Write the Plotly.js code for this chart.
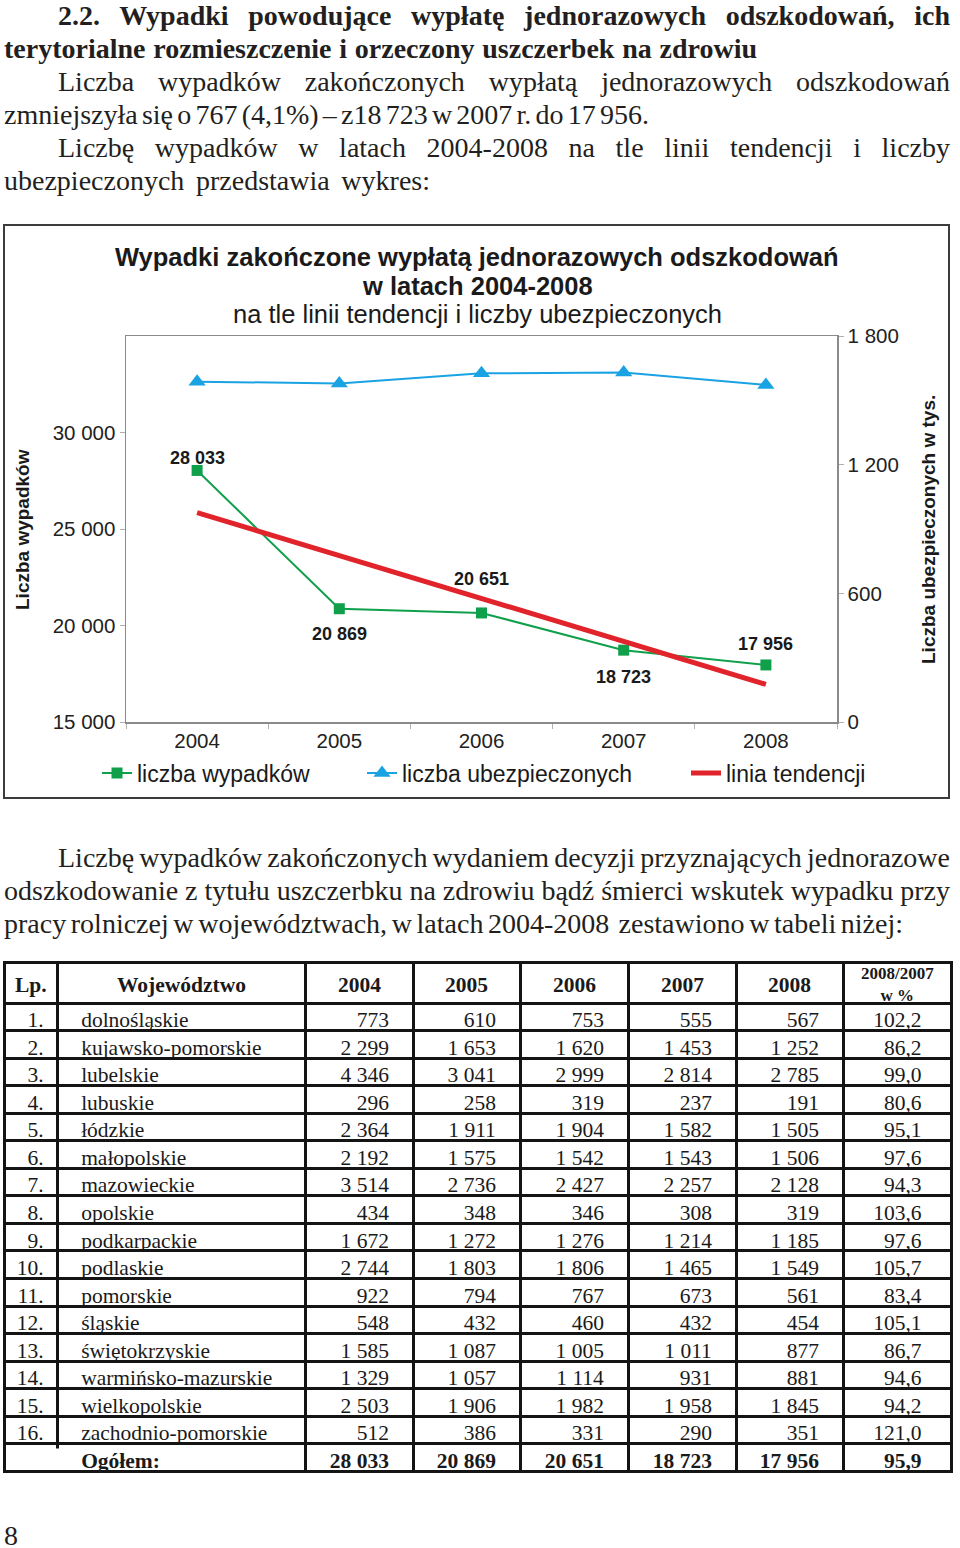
<!DOCTYPE html>
<html><head><meta charset="utf-8">
<script src="https://cdn.plot.ly/plotly-3.0.1.min.js"></script>
<style>
html,body{margin:0;padding:0;background:#fff;}
body{width:960px;height:1548px;position:relative;overflow:hidden;}
.ln{position:absolute;font-family:'Liberation Serif','Times New Roman',serif;font-size:28px;line-height:33px;color:#231f20;white-space:pre;}
.ln.b{font-weight:bold;}
#chart{position:absolute;left:4px;top:225px;width:945px;height:573px;}
#frame{position:absolute;left:3px;top:224px;width:947px;height:575px;border:2px solid #3c3c3c;box-sizing:border-box;pointer-events:none;}
#table{position:absolute;left:0;top:940px;width:960px;height:578px;}
</style>
</head><body>
<div id="chart"></div>
<div id="frame"></div>
<div id="table"></div>
<script>
// ---------- chart data ----------
const years = ['2004', '2005', '2006', '2007', '2008'];
const accidents = [28033, 20869, 20651, 18723, 17956];
const insuredThousands = [1587, 1579, 1626, 1630, 1572];
const trendYears = ['2004', '2008'];
const trendValues = [25850, 16950];
const leftTicks = [15000, 20000, 25000, 30000];
const rightTicks = [0, 600, 1200, 1800];
const seriesNames = ['liczba wypadków', 'liczba ubezpieczonych', 'linia tendencji'];

// ---------- table data ----------
const tableHeader = ['Lp.', 'Województwo', '2004', '2005', '2006', '2007', '2008', '2008/2007<br>w %'];
const lp = ['1.', '2.', '3.', '4.', '5.', '6.', '7.', '8.', '9.', '10.', '11.', '12.', '13.', '14.', '15.', '16.'];
const voivodeships = ['dolnośląskie', 'kujawsko-pomorskie', 'lubelskie', 'lubuskie', 'łódzkie', 'małopolskie',
  'mazowieckie', 'opolskie', 'podkarpackie', 'podlaskie', 'pomorskie', 'śląskie', 'świętokrzyskie',
  'warmińsko-mazurskie', 'wielkopolskie', 'zachodnio-pomorskie'];
const v2004 = [773, 2299, 4346, 296, 2364, 2192, 3514, 434, 1672, 2744, 922, 548, 1585, 1329, 2503, 512];
const v2005 = [610, 1653, 3041, 258, 1911, 1575, 2736, 348, 1272, 1803, 794, 432, 1087, 1057, 1906, 386];
const v2006 = [753, 1620, 2999, 319, 1904, 1542, 2427, 346, 1276, 1806, 767, 460, 1005, 1114, 1982, 331];
const v2007 = [555, 1453, 2814, 237, 1582, 1543, 2257, 308, 1214, 1465, 673, 432, 1011, 931, 1958, 290];
const v2008 = [567, 1252, 2785, 191, 1505, 1506, 2128, 319, 1185, 1549, 561, 454, 877, 881, 1845, 351];
const ratio = [102.2, 86.2, 99.0, 80.6, 95.1, 97.6, 94.3, 103.6, 97.6, 105.7, 83.4, 105.1, 86.7, 94.6, 94.2, 121.0];
const totalLabel = 'Ogółem:';
const totals = [28033, 20869, 20651, 18723, 17956];
const totalRatio = 95.9;

// ---------- page text ----------
const textLines = [
  {t: '2.2. Wypadki powodujące wypłatę jednorazowych odszkodowań, ich', x: 58, x2: 950, base: 25, b: true},
  {t: 'terytorialne rozmieszczenie i orzeczony uszczerbek na zdrowiu', x: 4, x2: 757, base: 58, b: true},
  {t: 'Liczba wypadków zakończonych wypłatą jednorazowych odszkodowań', x: 58, x2: 950, base: 91},
  {t: 'zmniejszyła się o 767 (4,1%) – z18 723 w 2007 r. do 17 956.', x: 4, x2: 649, base: 124},
  {t: 'Liczbę wypadków w latach 2004-2008 na tle linii tendencji i liczby', x: 58, x2: 950, base: 157},
  {t: 'ubezpieczonych przedstawia wykres:', x: 4, x2: 430, base: 190},
  {t: 'Liczbę wypadków zakończonych wydaniem decyzji przyznających jednorazowe', x: 58, x2: 950, base: 867},
  {t: 'odszkodowanie z tytułu uszczerbku na zdrowiu bądź śmierci wskutek wypadku przy', x: 4, x2: 950, base: 900},
  {t: 'pracy rolniczej w województwach, w latach 2004-2008  zestawiono w tabeli niżej:', x: 4, x2: 903, base: 933},
  {t: '8', x: 4, x2: 18, base: 1545}
];

function placeLine(l) {
  const d = document.createElement('div');
  d.className = 'ln' + (l.b ? ' b' : '');
  d.style.left = l.x + 'px';
  d.style.top = (l.base - 26) + 'px';
  const s = document.createElement('span');
  s.style.display = 'inline-block';
  s.textContent = l.t;
  d.appendChild(s);
  document.body.appendChild(d);
  const nat = s.getBoundingClientRect().width;
  const target = l.x2 - l.x;
  const n = (l.t.match(/ /g) || []).length;
  if (n > 0) {
    let ws = (target - nat) / n;
    if (ws < -4) ws = -4;
    s.style.wordSpacing = ws + 'px';
  }
  const w2 = s.getBoundingClientRect().width;
  if (Math.abs(w2 - target) > 1) {
    s.style.transformOrigin = '0 0';
    s.style.transform = 'scaleX(' + (target / w2) + ')';
  }
}
textLines.forEach(placeLine);

function fmt(n) { return String(n).replace(/\B(?=(\d{3})+(?!\d))/g, ' '); }
function fmtT(n) { return fmt(n).replace(/ /g, '\u00a0'); }
function fmtPct(n) { return n.toFixed(1).replace('.', ','); }

// ---------- chart ----------
const CH_W = 945, CH_H = 573;
const M = {l: 122, r: 112, t: 111, b: 76, autoexpand: false};
const PW = CH_W - M.l - M.r, PH = CH_H - M.t - M.b;
const px = v => (v - M.l) / PW;          // div x -> paper x
const py = v => (CH_H - M.b - v) / PH;   // div y -> paper y

const green = '#10a04c', blue = '#1aa3e3', red = '#e1242b';
const sans = 'Liberation Sans, Arial, sans-serif';

const traces = [
  {type: 'scatter', mode: 'lines+markers', x: years, y: accidents, name: seriesNames[0],
   line: {color: green, width: 2}, marker: {symbol: 'square', size: 11, color: green},
   legend: 'legend', hoverinfo: 'skip'},
  {type: 'scatter', mode: 'lines', x: trendYears, y: trendValues, name: seriesNames[2],
   line: {color: red, width: 5}, legend: 'legend3', hoverinfo: 'skip'},
  {type: 'scatter', mode: 'lines+markers', x: years, y: insuredThousands, name: seriesNames[1], yaxis: 'y2',
   line: {color: blue, width: 2}, marker: {symbol: 'triangle-up', size: 15, color: blue},
   legend: 'legend2', hoverinfo: 'skip'}
];

const labelShift = [12, -25, 34, -27, 21];
const annotations = accidents.map((v, i) => ({
  x: i, y: v, xref: 'x', yref: 'y', text: '<b>' + fmt(v) + '</b>', showarrow: false,
  yshift: labelShift[i], font: {family: sans, size: 18, color: '#1a1a1a'}
}));
annotations.push(
  {xref: 'paper', yref: 'paper', x: px(473), y: py(32), text: '<b>Wypadki zakończone wypłatą jednorazowych odszkodowań</b>',
   showarrow: false, xanchor: 'center', yanchor: 'middle', font: {family: sans, size: 25.5, color: '#1a1a1a'}},
  {xref: 'paper', yref: 'paper', x: px(473), y: py(61), text: '<b>w latach 2004-2008</b>',
   showarrow: false, xanchor: 'center', yanchor: 'middle', font: {family: sans, size: 25.5, color: '#1a1a1a'}},
  {xref: 'paper', yref: 'paper', x: px(473), y: py(89), text: 'na tle linii tendencji i liczby ubezpieczonych',
   showarrow: false, xanchor: 'center', yanchor: 'middle', font: {family: sans, size: 25.5, color: '#1a1a1a'}},
  {xref: 'paper', yref: 'paper', x: px(18), y: py(305), text: '<b>Liczba wypadków</b>', textangle: -90,
   showarrow: false, xanchor: 'center', yanchor: 'middle', font: {family: sans, size: 19, color: '#1a1a1a'}},
  {xref: 'paper', yref: 'paper', x: px(924), y: py(305), text: '<b>Liczba ubezpieczonych w tys.</b>', textangle: -90,
   showarrow: false, xanchor: 'center', yanchor: 'middle', font: {family: sans, size: 19, color: '#1a1a1a'}}
);

const legendBase = {orientation: 'h', yanchor: 'middle', xanchor: 'left', y: py(548),
  bgcolor: 'rgba(0,0,0,0)', borderwidth: 0, font: {family: sans, size: 23, color: '#1a1a1a'}};

const axisCommon = {showgrid: false, zeroline: false, showline: true, linecolor: '#8a8a8a', linewidth: 1.5,
  ticks: 'outside', ticklen: 5, tickcolor: '#b0b0b0', tickwidth: 1,
  tickfont: {family: sans, size: 20.5, color: '#222'}, automargin: false, fixedrange: true};

const layout = {
  width: CH_W, height: CH_H, margin: M, paper_bgcolor: '#fff', plot_bgcolor: '#fff',
  showlegend: true,
  xaxis: Object.assign({}, axisCommon, {type: 'category', categoryorder: 'array', categoryarray: years,
    range: [-0.5, 4.5], mirror: true, tickson: 'boundaries'}),
  yaxis: Object.assign({}, axisCommon, {range: [15000, 35000], tickmode: 'array', tickvals: leftTicks,
    ticktext: leftTicks.map(fmt)}),
  yaxis2: Object.assign({}, axisCommon, {overlaying: 'y', side: 'right', range: [0, 1800], tickmode: 'array',
    tickvals: rightTicks, ticktext: rightTicks.map(fmt)}),
  legend: Object.assign({}, legendBase, {x: px(93)}),
  legend2: Object.assign({}, legendBase, {x: px(358)}),
  legend3: Object.assign({}, legendBase, {x: px(682)}),
  annotations: annotations
};

Plotly.newPlot('chart', traces, layout, {staticPlot: true, displayModeBar: false});

// ---------- table ----------
const T_W = 960, T_H = 578, T_TOP = 940;
const TM = {l: 4, r: 9, t: 22, b: 16, autoexpand: false};
const TPW = T_W - TM.l - TM.r, TPH = T_H - TM.t - TM.b;
const tpx = v => (v - TM.l) / TPW;
const tpy = v => (T_H - TM.b - v) / TPH;
const serif = 'Liberation Serif, Times New Roman, serif';
const nb = n => '\u00a0'.repeat(n);
const colWidths = [53, 248, 108, 107, 108, 108, 107, 108];

const colLp = lp.concat(['']);
const colName = voivodeships.concat([totalLabel]);
const yearCols = [v2004, v2005, v2006, v2007, v2008].map((col, k) =>
  col.map(fmtT).concat([fmtT(totals[k])]));
const colRatio = ratio.map(fmtPct).concat([fmtPct(totalRatio)]);
const cellCols = [colLp, colName].concat(yearCols).concat([colRatio]);
const nRows = colLp.length;
const cellWeights = cellCols.map(() => colLp.map((_, r) => r === nRows - 1 ? 'bold' : 'normal'));

// header labels drawn as annotations centred in each header cell
const sumW = colWidths.reduce((a, b) => a + b, 0);
let acc = 0;
const hdrAnn = tableHeader.map((h, i) => {
  const c = (acc + colWidths[i] / 2) / sumW; acc += colWidths[i];
  const two = h.indexOf('<br>') >= 0;
  return {xref: 'paper', yref: 'paper', x: c, y: tpy((two ? 984 : 985) - T_TOP), text: '<b>' + h + '</b>',
    showarrow: false, xanchor: 'center', yanchor: 'middle',
    font: {family: serif, size: two ? 17 : 21.5, color: '#1a1a1a'}};
});

const tableTrace = {
  type: 'table',
  domain: {x: [0, 1], y: [0, 1]},
  columnwidth: colWidths,
  header: {
    values: tableHeader.map(() => ''), align: 'center', height: 41,
    line: {color: '#141414', width: 3}, fill: {color: '#fff'},
    font: {family: serif, size: 21.5, color: '#1a1a1a'}
  },
  cells: {
    values: cellCols,
    align: ['right', 'left', 'right', 'right', 'right', 'right', 'right', 'right'],
    prefix: ['', nb(3), '', '', '', '', '', ''],
    suffix: ['\u00a0', '', nb(3), nb(3), nb(3), nb(3), nb(3), nb(4)],
    height: 27.55,
    line: {color: '#141414', width: 3}, fill: {color: '#fff'},
    font: {family: serif, size: 21.5, color: '#1a1a1a', weight: cellWeights}
  }
};

const tableLayout = {
  width: T_W, height: T_H, margin: TM, paper_bgcolor: 'rgba(0,0,0,0)',
  annotations: hdrAnn,
  shapes: [
    {type: 'rect', xref: 'paper', yref: 'paper', layer: 'above',
     x0: tpx(54.5), x1: tpx(60), y0: tpy(1470 - T_TOP), y1: tpy(1448.5 - T_TOP),
     line: {width: 0}, fillcolor: '#fff'}
  ]
};

Plotly.newPlot('table', [tableTrace], tableLayout, {staticPlot: true, displayModeBar: false});
</script>
</body></html>
